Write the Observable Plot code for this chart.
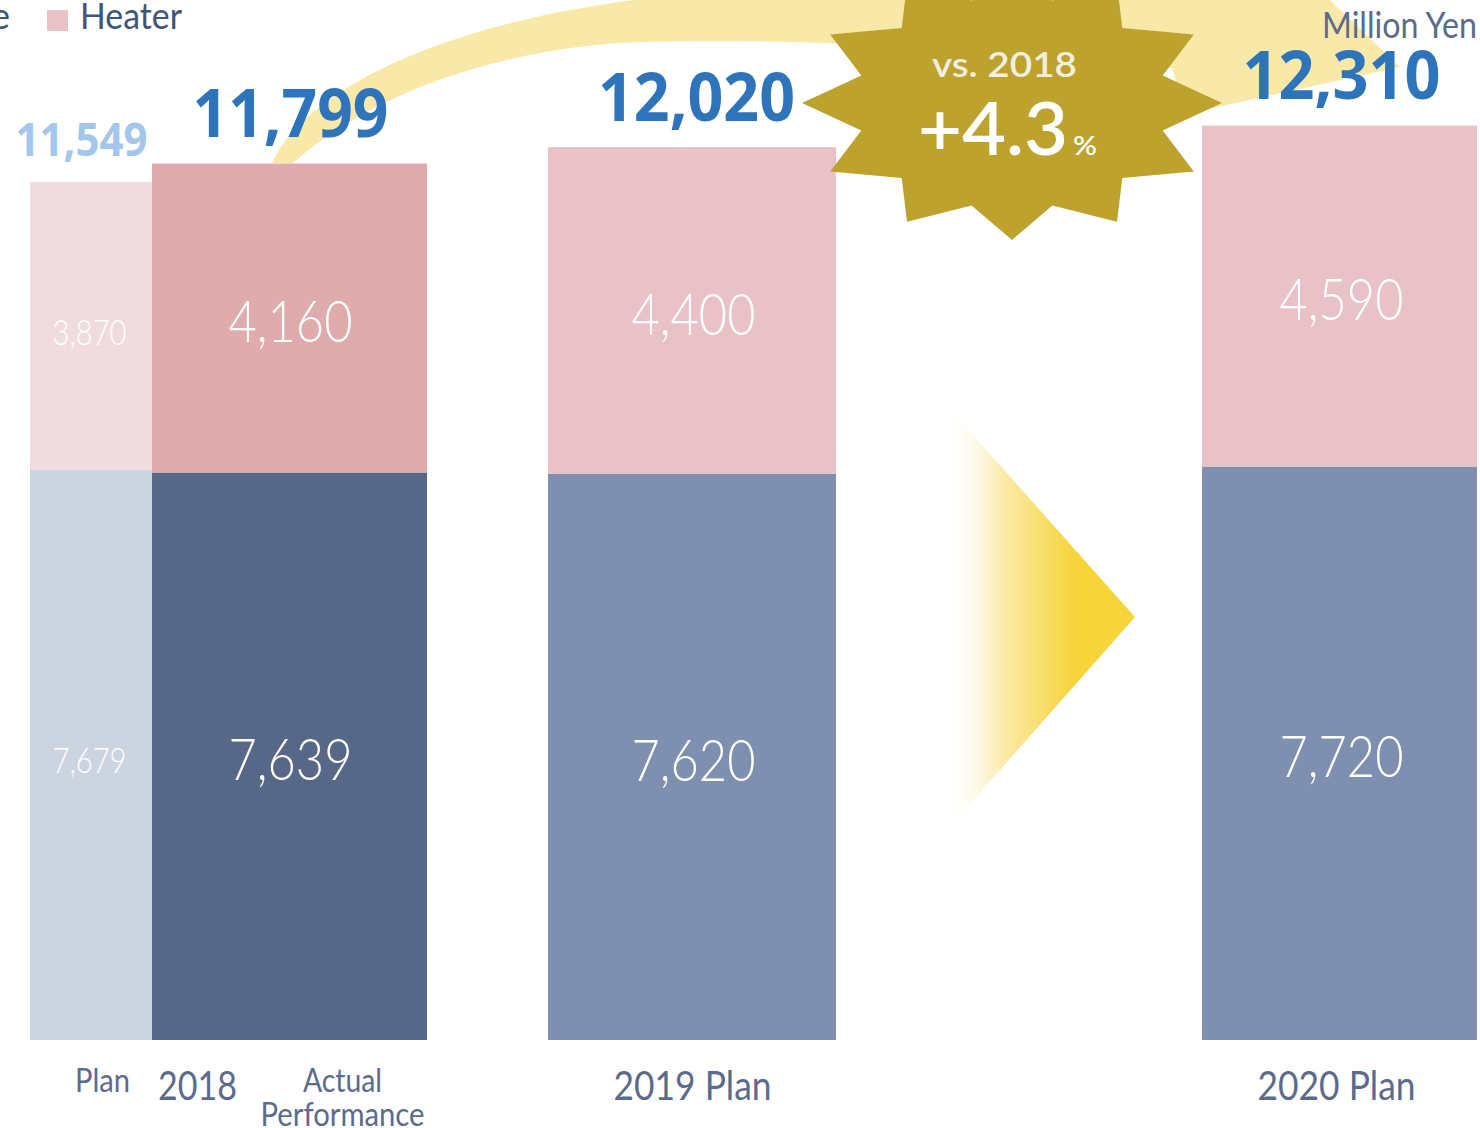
<!DOCTYPE html>
<html>
<head>
<meta charset="utf-8">
<script src="https://cdn.jsdelivr.net/npm/d3@7"></script>
<script src="https://cdn.jsdelivr.net/npm/@observablehq/plot@0.6"></script>
<style>
  html, body { margin: 0; padding: 0; background: #fff; overflow: hidden; }
  #wrap { position: relative; width: 1480px; height: 1128px; overflow: hidden; }
  #wrap svg { display: block; overflow: hidden; }
</style>
</head>
<body>
<div id="wrap"></div>
<script>
// ---------------- DATA ----------------
const categories   = ["2018 Plan", "2018 Actual", "2019 Plan", "2020 Plan"];
const segments     = ["Other", "Heater"];
const otherValues  = [7679, 7639, 7620, 7720];
const heaterValues = [3870, 4160, 4400, 4590];
const totals       = [11549, 11799, 12020, 12310];
const axisLabels   = ["2018", "2019 Plan", "2020 Plan"];
const subLabels    = ["Plan", "Actual\nPerformance"];
const unitLabel    = "Million Yen";
const legendLabels = ["e", "Heater"];   // first legend entry is cut off at the left edge

// ---------------- LAYOUT / STYLE ----------------
const W = 1480, H = 1128;
const slot = {                         // horizontal layout units (x scale)
  "2018 Plan":   {x1: 30,   x2: 152,  totalX: 81,   valueX: 89},
  "2018 Actual": {x1: 152,  x2: 427,  totalX: 290,  valueX: 290},
  "2019 Plan":   {x1: 548,  x2: 836,  totalX: 696,  valueX: 693},
  "2020 Plan":   {x1: 1202, x2: 1477, totalX: 1341, valueX: 1341}
};
const axisLabelX = [197, 692, 1336];
const subLabelX  = [102, 342];
const palette = {
  "2018 Plan":   {Other: "#ccd3e1", Heater: "#f0dcde"},
  "2018 Actual": {Other: "#566787", Heater: "#dfabad"},
  "2019 Plan":   {Other: "#7f8fb0", Heater: "#e8c2c6"},
  "2020 Plan":   {Other: "#7f8fb0", Heater: "#e8c2c6"}
};
const FONT = "Lato, 'Open Sans', 'Noto Sans', sans-serif";
const BOLD = "'Open Sans', Lato, 'Noto Sans', sans-serif";

// ---------------- TABLES ----------------
const rows = categories.flatMap((c, i) => {
  const vals = [otherValues[i], heaterValues[i]];
  let acc = 0;
  return segments.map((s, j) => {
    const y1 = acc; acc += vals[j];
    return {category: c, segment: s, value: vals[j], y1, y2: acc, mid: (y1 + acc) / 2};
  });
});
const totalRows = categories.map((c, i) => ({category: c, total: totals[i]}));
const fmt = d3.format(",");

const chart = Plot.plot({
  width: W, height: H,
  marginTop: 0, marginRight: 0, marginBottom: 88, marginLeft: 0,
  x: {type: "linear", domain: [0, W], axis: null},
  y: {domain: [0, 14000], axis: null},
  color: {type: "identity"},
  marks: [
    Plot.rect(rows, {
      x1: d => slot[d.category].x1, x2: d => slot[d.category].x2,
      y1: "y1", y2: "y2",
      fill: d => palette[d.category][d.segment]
    }),
    // text mark 0: values inside the narrow plan bar
    Plot.text(rows.filter(d => d.category === "2018 Plan"), {
      x: d => slot[d.category].valueX, y: "mid", text: d => fmt(d.value),
      fill: "white", fontSize: 35, fontWeight: 300, fontFamily: FONT,
      lineAnchor: "middle", dy: 7
    }),
    // text mark 1: values inside the big bars
    Plot.text(rows.filter(d => d.category !== "2018 Plan"), {
      x: d => slot[d.category].valueX, y: "mid", text: d => fmt(d.value),
      fill: "white", fontSize: 58, fontWeight: 300, fontFamily: FONT,
      lineAnchor: "middle", dy: 5
    }),
    // text mark 2: totals
    Plot.text(totalRows, {
      x: d => slot[d.category].totalX, y: "total", text: d => fmt(d.total),
      fill: d => d.category === "2018 Plan" ? "#a3c6ea" : "#2e74bb",
      fontSize: d => d.category === "2018 Plan" ? 47 : 66,
      fontWeight: 700, fontFamily: BOLD,
      lineAnchor: "bottom", dy: -27
    }),
    // text mark 3: category labels
    Plot.text(axisLabels, {
      x: (d, i) => axisLabelX[i], text: d => d, frameAnchor: "bottom",
      fill: "#5b6b8c", fontSize: 40, fontFamily: FONT,
      lineAnchor: "top", dy: 31
    }),
    // text mark 4: sub labels
    Plot.text(subLabels, {
      x: (d, i) => subLabelX[i], text: d => d, frameAnchor: "bottom",
      fill: "#5b6b8c", fontSize: 33, fontFamily: FONT,
      lineAnchor: "top", lineHeight: 1.02, dy: 28
    })
  ]
});

// ---------------- fit text widths to the reference's narrow typeface ----------------
const textGroups = chart.querySelectorAll('g[aria-label="text"]');
function fit(k, widths) {
  const g = textGroups[k];
  if (!g) return;
  g.querySelectorAll("text").forEach((t, i) => {
    const w = widths[i];
    const spans = t.querySelectorAll("tspan");
    if (spans.length) {
      spans.forEach((s, j) => { s.setAttribute("textLength", w[j]); s.setAttribute("lengthAdjust", "spacingAndGlyphs"); });
    } else {
      t.setAttribute("textLength", w); t.setAttribute("lengthAdjust", "spacingAndGlyphs");
    }
  });
}
fit(0, [74, 74]);
fit(1, [124, 124, 124, 124, 124, 124]);
fit(2, [132, 196, 197, 198]);
fit(3, [79, 158, 158]);
fit(4, [55, [79, 164]]);

// ---------------- decorations ----------------
const svg = d3.select(chart);
const defs = svg.insert("defs", ":first-child");
const grad = defs.append("linearGradient").attr("id", "fadeArrow")
  .attr("gradientUnits", "userSpaceOnUse").attr("x1", 945).attr("x2", 1075).attr("y1", 0).attr("y2", 0);
grad.append("stop").attr("offset", 0).attr("stop-color", "#ffffff").attr("stop-opacity", 0);
grad.append("stop").attr("offset", 0.45).attr("stop-color", "#fbeaa8");
grad.append("stop").attr("offset", 1).attr("stop-color", "#f6d43a");

const deco = svg.insert("g", () => textGroups[0]).attr("aria-label", "decorations")
  .attr("text-anchor", "start");

deco.append("path").attr("d", "M940,398 L1135,617 L940,838 Z").attr("fill", "url(#fadeArrow)");

deco.append("path")
  .attr("d", "M272,163 C300,100 420,25 650,-2 C800,-18 1000,-20 1150,-15 L1283,-45 L1400,67 L1186,114 L1172,68 C1000,48 800,38 640,42 C520,46 380,85 293,163 Z")
  .attr("fill", "#f9e9a8");

const cx = 1012, cy = 103, ro = [210, 137], ri = [156, 106];
const pts = d3.range(24).map(k => {
  const a = k * Math.PI / 12;
  const r = k % 2 === 0 ? ro : ri;
  return [cx + r[0] * Math.cos(a), cy + r[1] * Math.sin(a)];
});
deco.append("path").attr("d", "M" + pts.map(p => p.join(",")).join("L") + "Z").attr("fill", "#bda22e");

const pct = ((totals[3] - totals[1]) / totals[1] * 100).toFixed(1);
deco.append("text").attr("x", 932).attr("y", 77)
  .attr("font-family", FONT).attr("font-size", 34).attr("font-weight", 600).attr("fill", "#f3efe0")
  .attr("textLength", 145).attr("lengthAdjust", "spacingAndGlyphs")
  .text("vs. " + categories[1].slice(0, 4));
deco.append("text").attr("x", 918).attr("y", 155)
  .attr("font-family", FONT).attr("font-size", 74).attr("font-weight", 600).attr("fill", "#ffffff")
  .attr("textLength", 150).attr("lengthAdjust", "spacingAndGlyphs")
  .text("+" + pct);
deco.append("text").attr("x", 1073).attr("y", 155)
  .attr("font-family", FONT).attr("font-size", 27).attr("font-weight", 600).attr("fill", "#ffffff")
  .attr("textLength", 24).attr("lengthAdjust", "spacingAndGlyphs")
  .text("%");

const legendG = svg.append("g").attr("aria-label", "legend").attr("text-anchor", "start");
legendG.append("text").attr("x", 1477).attr("y", 38).attr("text-anchor", "end")
  .attr("font-family", FONT).attr("font-size", 36).attr("fill", "#5b6b8c")
  .attr("textLength", 155).attr("lengthAdjust", "spacingAndGlyphs")
  .text(unitLabel);
legendG.append("text").attr("x", -9).attr("y", 29)
  .attr("font-family", FONT).attr("font-size", 36).attr("fill", "#3d5577")
  .text(legendLabels[0]);
legendG.append("rect").attr("x", 47).attr("y", 10).attr("width", 21).attr("height", 21)
  .attr("fill", palette["2020 Plan"].Heater);
legendG.append("text").attr("x", 80).attr("y", 29)
  .attr("font-family", FONT).attr("font-size", 36).attr("fill", "#3d5577")
  .attr("textLength", 102).attr("lengthAdjust", "spacingAndGlyphs")
  .text(legendLabels[1]);

document.getElementById("wrap").appendChild(chart);
</script>
</body>
</html>
